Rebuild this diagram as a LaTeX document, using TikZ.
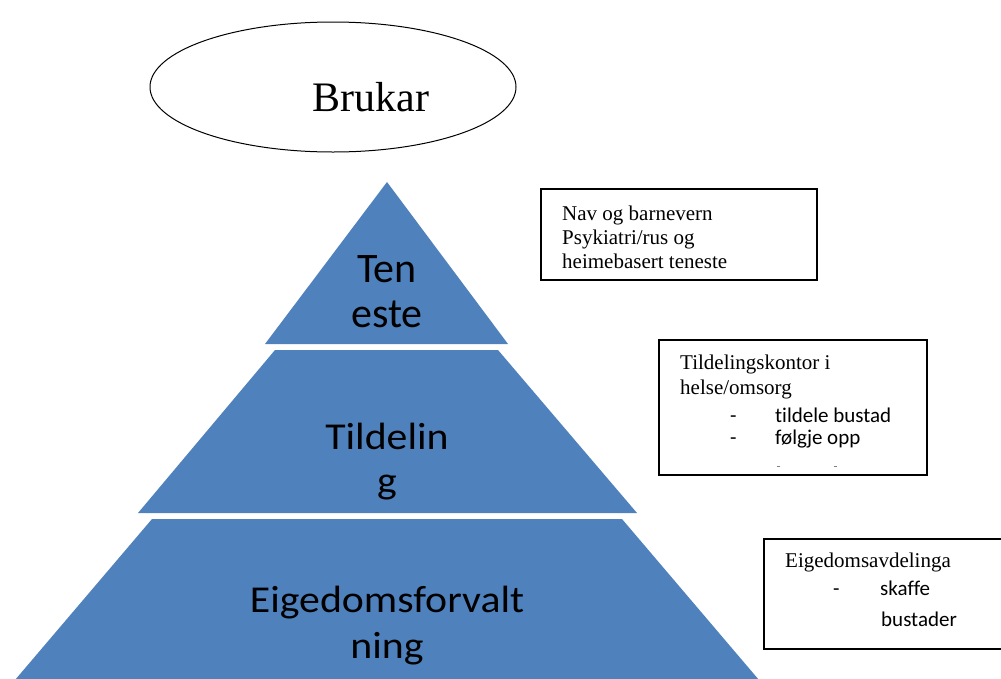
\documentclass[tikz,border=0pt]{standalone}
\usepackage{fontspec}
\setmainfont{Liberation Serif}
\newfontfamily\calibri[Ligatures=NoCommon]{Carlito}
\usepackage{tikz}
\usetikzlibrary{shapes.geometric,positioning}
\definecolor{pyrblue}{RGB}{79,129,189}
\newcommand{\widetxt}[1]{\scalebox{1.1}[1]{#1}}

\begin{document}
\begin{tikzpicture}[x=1pt,y=1pt,yscale=-1,
  level/.style={fill=pyrblue,draw=none},
  lvltext/.style={anchor=base,inner sep=0pt,font=\calibri\fontsize{38}{44}\selectfont},
  infobox/.style={draw=black,line width=1.6pt,fill=white},
  infotext/.style={anchor=base west,inner sep=0pt,font=\fontsize{21}{24}\selectfont},
  itemtext/.style={anchor=base west,inner sep=0pt,font=\calibri\fontsize{21}{24}\selectfont}]
\useasboundingbox (0,0) rectangle (1001,678);
\clip (0,0) rectangle (1001,678);

%Ellipse: Brukar
\node (brukar) [draw,ellipse,line width=1pt,minimum width=366,minimum height=130] at (333,87) {};
% Text Node
\node (brukartxt) [anchor=base,inner sep=0pt,font=\fontsize{42}{48}\selectfont] at (371,111) {Brukar};

%Pyramid: top level
\draw [level] (387,182) -- (508,344) -- (265,344) -- cycle ;
%Pyramid: middle level
\draw [level] (275,350) -- (498,350) -- (637,513) -- (138,513) -- cycle ;
%Pyramid: bottom level
\draw [level] (152,519) -- (622,519) -- (759,680) -- (15,680) -- cycle ;

% Text Node
\node (teneste1) [lvltext,font=\calibri\fontsize{42}{45}\selectfont] at (387,282) {Ten};
% Text Node
\node (teneste2) [lvltext,font=\calibri\fontsize{42}{45}\selectfont] at (387,327) {este};
% Text Node
\node (tildeling1) [lvltext] at (387,449) {\widetxt{Tildelin}};
% Text Node
\node (tildeling2) [lvltext] at (387,493) {\widetxt{g}};
% Text Node
\node (eigedom1) [lvltext] at (387,612) {\widetxt{Eigedomsforvalt}};
% Text Node
\node (eigedom2) [lvltext] at (387,658) {\widetxt{ning}};

%Text box: teneste
\draw [infobox] (541,189) rectangle (817,280) ;
% Text Node
\node (nav) [infotext] at (562,220) {Nav og barnevern};
% Text Node
\node (psyk) [infotext] at (562,244) {Psykiatri/rus og};
% Text Node
\node (heime) [infotext] at (562,268) {heimebasert teneste};

%Text box: tildeling
\draw [infobox] (659,340) rectangle (927,475) ;
% Text Node
\node (kontor) [infotext] at (680,369) {Tildelingskontor i};
% Text Node
\node (helse) [infotext] at (680,394) {helse/omsorg};
% Text Node
\node (dash1) [itemtext] at (730,422) {-};
% Text Node
\node (tildele) [itemtext] at (775,422) {tildele bustad};
% Text Node
\node (dash2) [itemtext] at (730,444) {-};
% Text Node
\node (folgje) [itemtext] at (775,444) {følgje opp};
%cut-off marks
\draw [gray,line width=0.8pt] (777,466) -- (780,466) (834,466) -- (837,466) ;

%Text box: eigedom
\draw [infobox] (764,539) rectangle (1010,649) ;
% Text Node
\node (avd) [infotext] at (785,567) {Eigedomsavdelinga};
% Text Node
\node (dash3) [itemtext] at (833,595) {-};
% Text Node
\node (skaffe) [itemtext] at (880,595) {skaffe};
% Text Node
\node (bustader) [itemtext] at (881,626) {bustader};

\end{tikzpicture}
\end{document}
